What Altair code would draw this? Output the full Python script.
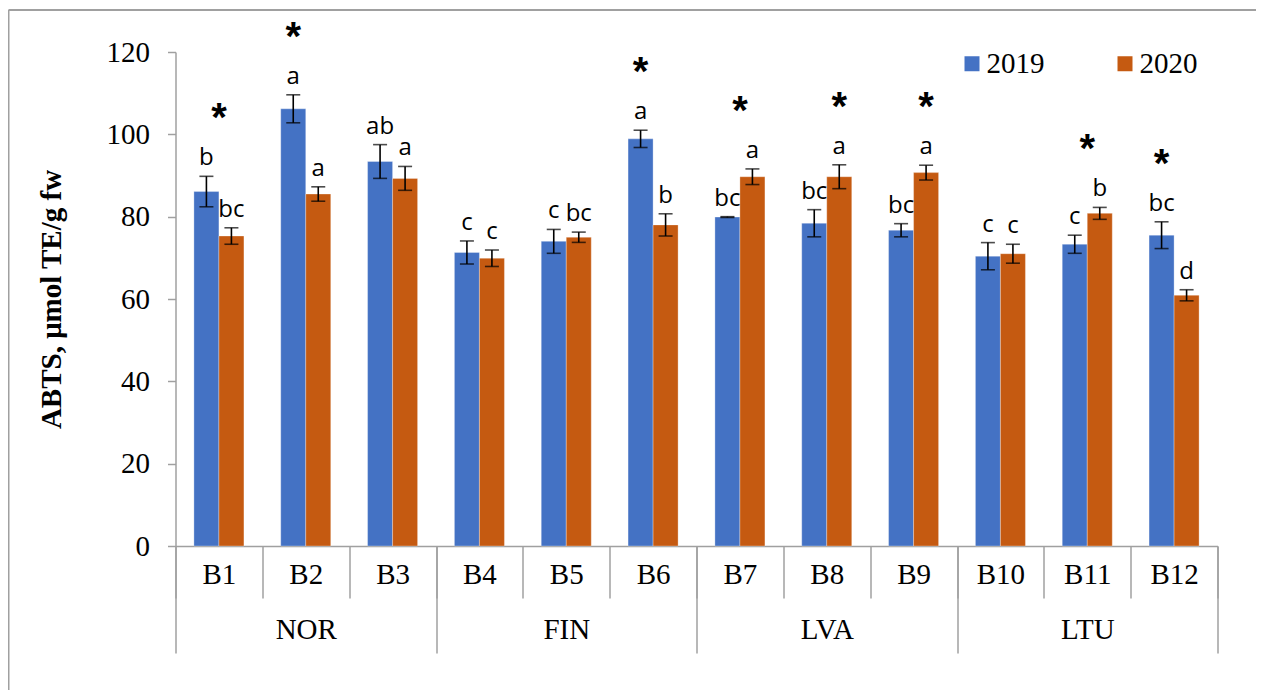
import altair as alt
import pandas as pd

bars = ["B1", "B2", "B3", "B4", "B5", "B6", "B7", "B8", "B9", "B10", "B11", "B12"]
groups = ["NOR", "FIN", "LVA", "LTU"]
group_of_bar = ["NOR"] * 3 + ["FIN"] * 3 + ["LVA"] * 3 + ["LTU"] * 3
years = ["2019", "2020"]

v2019 = [86.1, 106.2, 93.4, 71.3, 74.0, 98.9, 79.9, 78.4, 76.7, 70.4, 73.3, 75.5]
e2019 = [3.7, 3.4, 4.1, 2.8, 2.9, 2.1, 0.1, 3.3, 1.6, 3.3, 2.2, 3.25]
v2020 = [75.3, 85.5, 89.3, 69.9, 75.0, 78.0, 89.7, 89.7, 90.7, 71.0, 80.8, 60.9]
e2020 = [2.0, 1.75, 2.9, 2.0, 1.25, 2.7, 1.9, 2.9, 1.8, 2.3, 1.45, 1.35]
l2019 = ["b", "a", "ab", "c", "c", "a", "bc", "bc", "bc", "c", "c", "bc"]
l2020 = ["bc", "a", "a", "c", "bc", "b", "a", "a", "a", "c", "b", "d"]

star_bars = ["B1", "B2", "B6", "B7", "B8", "B9", "B11", "B12"]
star_over = ["both", "2019", "2019", "both", "2020", "2020", "both", "2019"]

rows = []
for i, b in enumerate(bars):
    for yr, v, e, l in (("2019", v2019[i], e2019[i], l2019[i]), ("2020", v2020[i], e2020[i], l2020[i])):
        rows.append({"bar": b, "group": group_of_bar[i], "year": yr, "value": v,
                     "lo": v - e, "hi": v + e, "letter": l})
df = pd.DataFrame(rows)

srows = []
for b, o in zip(star_bars, star_over):
    i = bars.index(b)
    top = max(v2019[i] + e2019[i], v2020[i] + e2020[i])
    srows.append({"bar": b, "year": o, "top": top})
sdf = pd.DataFrame(srows)

GRAY = "#a0a0a0"
SERIF = "Liberation Serif"
FS = 29

x_enc = alt.X("bar:N", scale=alt.Scale(domain=bars, paddingInner=0, paddingOuter=0),
              axis=alt.Axis(title=None, orient="bottom", labelFont=SERIF, labelFontSize=FS,
                            labelColor="black", labelAngle=0, tickBand="extent", tickSize=52,
                            tickColor=GRAY, tickWidth=1.5, domainColor=GRAY, domainWidth=1.5,
                            labelPadding=-38))
xo_enc = alt.XOffset("year:N", scale=alt.Scale(domain=years, paddingInner=0, paddingOuter=0.736))
y_enc = alt.Y("value:Q", scale=alt.Scale(domain=[0, 120], nice=False),
              axis=alt.Axis(title="ABTS, μmol TE/g fw", titleFont=SERIF, titleFontSize=FS,
                            titleFontWeight="bold", titleColor="black", titlePadding=40,
                            values=[0, 20, 40, 60, 80, 100, 120], labelFont=SERIF,
                            labelFontSize=FS, labelColor="black", labelPadding=18, tickSize=8,
                            tickColor=GRAY, tickWidth=1.5, domainColor=GRAY, domainWidth=1.5,
                            grid=False))

base = alt.Chart(df)

bar_layer = base.mark_bar(stroke="white", strokeWidth=0.6, strokeOpacity=0.5).encode(
    x=x_enc, xOffset=xo_enc, y=y_enc,
    color=alt.Color("year:N", scale=alt.Scale(domain=years, range=["#4472C4", "#C55A11"]),
                    legend=alt.Legend(title=None, orient="none", legendX=782, legendY=-3,
                                      direction="horizontal", symbolType="square",
                                      symbolSize=225, symbolStrokeWidth=0, labelFont=SERIF,
                                      labelFontSize=FS, labelColor="black", columnPadding=66,
                                      labelOffset=0, padding=0)),
)

err_rule = base.mark_rule(color="black", strokeWidth=1.6).encode(
    x=alt.X("bar:N"), xOffset=alt.XOffset("year:N"), y=alt.Y("lo:Q"), y2="hi:Q")
cap_hi = base.mark_tick(color="black", thickness=1.6, size=14).encode(
    x=alt.X("bar:N"), xOffset=alt.XOffset("year:N"), y=alt.Y("hi:Q"))
cap_lo = base.mark_tick(color="black", thickness=1.6, size=14).encode(
    x=alt.X("bar:N"), xOffset=alt.XOffset("year:N"), y=alt.Y("lo:Q"))

letters = base.mark_text(font="Open Sans", fontSize=24, color="black", baseline="alphabetic",
                         dy=-11).encode(
    x=alt.X("bar:N"), xOffset=alt.XOffset("year:N"), y=alt.Y("hi:Q"), text="letter:N")

schart = alt.Chart(sdf)
STAR = dict(text="*", font="Liberation Sans", fontSize=40, fontWeight="bold", color="black",
            baseline="alphabetic", dy=-45)
stars_year = schart.transform_filter(alt.datum.year != "both").mark_text(**STAR).encode(
    x=alt.X("bar:N"), xOffset=alt.XOffset("year:N"), y=alt.Y("top:Q"))
stars_both = schart.transform_filter(alt.datum.year == "both").mark_text(**STAR).encode(
    x=alt.X("bar:N"), y=alt.Y("top:Q"))

inner = alt.layer(bar_layer, err_rule, cap_hi, cap_lo, letters, stars_year, stars_both)

gdf = pd.DataFrame({"group": groups})
group_axis = alt.Chart(gdf).mark_text(opacity=0).encode(
    x=alt.X("group:N", scale=alt.Scale(domain=groups, paddingInner=0, paddingOuter=0),
            axis=alt.Axis(title=None, orient="bottom", domain=False, labelFont=SERIF,
                          labelFontSize=FS, labelColor="black", labelAngle=0,
                          tickBand="extent", tickSize=107, tickColor=GRAY, tickWidth=1.5,
                          labelPadding=-38)),
    text=alt.value(""),
)

one = pd.DataFrame({"a": [0]})
frame_left = alt.Chart(one).mark_rule(color=GRAY, strokeWidth=2).encode(
    x=alt.value(-167), y=alt.value(-42), y2=alt.value(640))
frame_top = alt.Chart(one).mark_rule(color=GRAY, strokeWidth=2).encode(
    x=alt.value(-167), x2=alt.value(1100), y=alt.value(-42))

chart = alt.layer(inner, group_axis, frame_left, frame_top).resolve_scale(
    x="independent").properties(
    width=1042, height=494,
    autosize=alt.AutoSizeParams(type="none"),
    padding={"left": 167.5, "top": 44, "right": 38.5, "bottom": 144},
).configure_view(stroke=None)

chart.save("out.html", embed_options={"renderer": "svg", "actions": False})
